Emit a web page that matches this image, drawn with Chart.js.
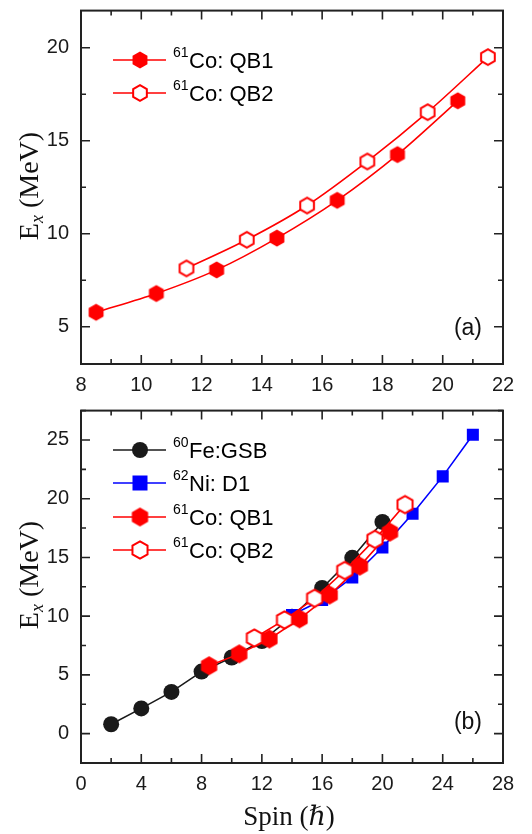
<!DOCTYPE html>
<html>
<head>
<meta charset="utf-8">
<script src="https://cdn.jsdelivr.net/npm/chart.js@4/dist/chart.umd.min.js"></script>
<style>
  html, body { margin: 0; padding: 0; background: #fff; }
  #wrap { position: relative; width: 532px; height: 834px; }
  .panel { position: absolute; left: 0; width: 532px; }
</style>
</head>
<body>
<div id="wrap">
  <div class="panel" style="top:0;height:400px"><canvas id="cA" width="532" height="400"></canvas></div>
  <div class="panel" style="top:400px;height:434px"><canvas id="cB" width="532" height="434"></canvas></div>
</div>
<script>
// ---- data ----
const spinQB1 = [8.5, 10.5, 12.5, 14.5, 16.5, 18.5, 20.5];
const energyQB1 = [5.78, 6.79, 8.06, 9.77, 11.80, 14.26, 17.15];
const spinQB2 = [11.5, 13.5, 15.5, 17.5, 19.5, 21.5];
const energyQB2 = [8.14, 9.68, 11.52, 13.89, 16.54, 19.50];
const spinFe = [2, 4, 6, 8, 10, 12, 14, 16, 18, 20];
const energyFe = [0.80, 2.15, 3.55, 5.28, 6.48, 7.88, 9.95, 12.40, 14.97, 18.02];
const spinNi = [14, 16, 18, 20, 22, 24, 26];
const energyNi = [10.10, 11.37, 13.30, 15.84, 18.72, 21.90, 25.45];

const ticksAX = [8, 10, 12, 14, 16, 18, 20, 22];
const ticksAY = [5, 10, 15, 20];
const ticksBX = [0, 4, 8, 12, 16, 20, 24, 28];
const ticksBY = [0, 5, 10, 15, 20, 25];

const RED = '#ff0000', BLUE = '#0000ff', BLACK = '#1a1a1a', AXIS = '#222222';

function pts(xs, ys) { return xs.map((x, i) => ({ x: x, y: ys[i] })); }

function hexCanvas(r, fill, stroke, lw) {
  const size = Math.ceil(2 * r + lw + 2);
  const c = document.createElement('canvas');
  c.width = size; c.height = size;
  const g = c.getContext('2d');
  g.translate(size / 2, size / 2);
  g.beginPath();
  for (let k = 0; k < 6; k++) {
    const a = (-90 + 60 * k) * Math.PI / 180;
    const px = r * Math.cos(a), py = r * Math.sin(a);
    if (k === 0) g.moveTo(px, py); else g.lineTo(px, py);
  }
  g.closePath();
  g.fillStyle = fill; g.fill();
  if (lw > 0) { g.lineWidth = lw; g.strokeStyle = stroke; g.stroke(); }
  return c;
}

const hexFillA = hexCanvas(8.6, RED, RED, 0);
const hexOpenA = hexCanvas(7.9, '#ffffff', RED, 2);
const hexFillB = hexCanvas(9.4, RED, RED, 0);
const hexOpenB = hexCanvas(8.7, '#ffffff', RED, 2);

function frameTicks(xMajor, xMinorStep, yMajor, yMinorStep) {
  return {
    id: 'frameTicks',
    afterDatasetsDraw(chart) {
      const ctx = chart.ctx, a = chart.chartArea;
      const xs = chart.scales.x, ys = chart.scales.y;
      ctx.save();
      ctx.strokeStyle = AXIS;
      ctx.lineWidth = 2;
      ctx.strokeRect(a.left, a.top, a.right - a.left, a.bottom - a.top);
      ctx.lineWidth = 1.6;
      const MAJ = 9, MIN = 5;
      const xMin = xs.min, xMax = xs.max, yMin = ys.min, yMax = ys.max;
      ctx.beginPath();
      for (let v = Math.ceil(xMin / xMinorStep) * xMinorStep; v <= xMax + 1e-9; v += xMinorStep) {
        const isMaj = xMajor.some(m => Math.abs(m - v) < 1e-6);
        const L = isMaj ? MAJ : MIN;
        const p = xs.getPixelForValue(v);
        ctx.moveTo(p, a.bottom); ctx.lineTo(p, a.bottom - L);
        ctx.moveTo(p, a.top); ctx.lineTo(p, a.top + L);
      }
      for (let v = Math.ceil(yMin / yMinorStep) * yMinorStep; v <= yMax + 1e-9; v += yMinorStep) {
        const isMaj = yMajor.some(m => Math.abs(m - v) < 1e-6);
        const L = isMaj ? MAJ : MIN;
        const p = ys.getPixelForValue(v);
        ctx.moveTo(a.left, p); ctx.lineTo(a.left + L, p);
        ctx.moveTo(a.right, p); ctx.lineTo(a.right - L, p);
      }
      ctx.stroke();
      ctx.restore();
    }
  };
}

function yTitle(cx, cy) {
  return {
    id: 'yTitle',
    afterDraw(chart) {
      const ctx = chart.ctx;
      ctx.save();
      ctx.translate(cx, cy);
      ctx.rotate(-Math.PI / 2);
      ctx.fillStyle = '#111';
      ctx.textBaseline = 'alphabetic';
      const big = '28px "Liberation Serif", "Times New Roman", serif';
      const sub = 'italic 18px "Liberation Serif", "Times New Roman", serif';
      ctx.font = big; const wE = ctx.measureText('E').width;
      ctx.font = sub; const wx = ctx.measureText('x').width;
      ctx.font = big; const wR = ctx.measureText(' (MeV)').width;
      const total = wE + wx + wR;
      let x0 = -total / 2;
      const base = 10;
      ctx.font = big; ctx.textAlign = 'left';
      ctx.fillText('E', x0, base); x0 += wE;
      ctx.font = sub; ctx.fillText('x', x0, base + 5); x0 += wx;
      ctx.font = big; ctx.fillText(' (MeV)', x0, base);
      ctx.restore();
    }
  };
}

function legendPlugin(items, rowY) {
  return {
    id: 'customLegend',
    afterDraw(chart) {
      const ctx = chart.ctx;
      ctx.save();
      items.forEach((it, i) => {
        const y = rowY[i];
        ctx.strokeStyle = it.color; ctx.lineWidth = 1.6;
        ctx.beginPath(); ctx.moveTo(113, y); ctx.lineTo(166, y); ctx.stroke();
        const mx = 140;
        if (it.marker === 'circle') {
          ctx.fillStyle = it.color; ctx.beginPath(); ctx.arc(mx, y, 8, 0, Math.PI * 2); ctx.fill();
        } else if (it.marker === 'square') {
          ctx.fillStyle = it.color; ctx.fillRect(mx - 7.5, y - 7.5, 15, 15);
        } else {
          const c = it.marker;
          ctx.drawImage(c, mx - c.width / 2, y - c.height / 2);
        }
        ctx.fillStyle = '#000';
        ctx.textAlign = 'left'; ctx.textBaseline = 'alphabetic';
        ctx.font = '14px "Liberation Sans", Arial, sans-serif';
        ctx.fillText(it.sup, 173, y - 3);
        const ws = ctx.measureText(it.sup).width;
        ctx.font = '22px "Liberation Sans", Arial, sans-serif';
        ctx.fillText(it.text, 173 + ws + 0.5, y + 8);
      });
      ctx.restore();
    }
  };
}

function panelLabel(txt, x, y) {
  return {
    id: 'panelLabel',
    afterDraw(chart) {
      const ctx = chart.ctx;
      ctx.save();
      ctx.fillStyle = '#111';
      ctx.font = '23px "Liberation Sans", Arial, sans-serif';
      ctx.textAlign = 'right'; ctx.textBaseline = 'middle';
      ctx.fillText(txt, x, y);
      ctx.restore();
    }
  };
}

function xTitle(cx, by) {
  return {
    id: 'xTitle',
    afterDraw(chart) {
      const ctx = chart.ctx;
      ctx.save();
      ctx.fillStyle = '#111';
      ctx.textBaseline = 'alphabetic';
      const f1 = '27px "Liberation Serif", "Times New Roman", serif';
      const f2 = 'italic 27px "Liberation Serif", "DejaVu Serif", serif';
      ctx.font = f1; const w1 = ctx.measureText('Spin (').width;
      ctx.font = f2; const w2 = ctx.measureText('\u210F').width;
      ctx.font = f1; const w3 = ctx.measureText(')').width;
      let x0 = cx - (w1 + w2 + w3) / 2;
      ctx.textAlign = 'left';
      ctx.font = f1; ctx.fillText('Spin (', x0, by); x0 += w1;
      ctx.font = f2; ctx.fillText('\u210F', x0, by); x0 += w2;
      ctx.font = f1; ctx.fillText(')', x0, by);
      ctx.restore();
    }
  };
}

const tickFont = { family: '"Liberation Sans", Arial, sans-serif', size: 20 };

function makeScales(xmin, xmax, xt, ymin, ymax, yt, xAxisH) {
  return {
    x: {
      type: 'linear', min: xmin, max: xmax,
      grid: { display: false, drawTicks: false },
      border: { display: false },
      afterBuildTicks: s => { s.ticks = xt.map(v => ({ value: v })); },
      afterFit: s => { s.height = xAxisH; s.paddingLeft = 0; s.paddingRight = 0; s.paddingTop = 0; s.paddingBottom = 0; },
      ticks: { font: tickFont, color: '#1a1a1a', padding: 9, maxRotation: 0, autoSkip: false }
    },
    y: {
      type: 'linear', min: ymin, max: ymax,
      grid: { display: false, drawTicks: false },
      border: { display: false },
      afterBuildTicks: s => { s.ticks = yt.map(v => ({ value: v })); },
      afterFit: s => { s.width = 81; s.paddingTop = 0; s.paddingBottom = 0; s.paddingLeft = 0; s.paddingRight = 0; },
      ticks: { font: tickFont, color: '#1a1a1a', padding: 12, autoSkip: false }
    }
  };
}

const common = {
  responsive: false, animation: false, devicePixelRatio: 1,
  plugins: { legend: { display: false }, tooltip: { enabled: false } },
  events: []
};

// ---- Panel (a) ----
new Chart(document.getElementById('cA'), {
  type: 'scatter',
  data: {
    datasets: [
      { label: 'QB1', data: pts(spinQB1, energyQB1), showLine: true, borderColor: RED, borderWidth: 1.6,
        pointStyle: hexFillA, pointRadius: 9, tension: 0.3, order: 2 },
      { label: 'QB2', data: pts(spinQB2, energyQB2), showLine: true, borderColor: RED, borderWidth: 1.6,
        pointStyle: hexOpenA, pointRadius: 9, tension: 0.3, order: 1 }
    ]
  },
  options: Object.assign({}, common, {
    layout: { padding: { left: 0, top: 6, right: 29, bottom: 0 } },
    scales: makeScales(8, 22, ticksAX, 3, 22, ticksAY, 36)
  }),
  plugins: [
    frameTicks(ticksAX, 1, ticksAY, 2.5),
    yTitle(28, 186),
    legendPlugin([
      { color: RED, marker: hexFillA, sup: '61', text: 'Co: QB1' },
      { color: RED, marker: hexOpenA, sup: '61', text: 'Co: QB2' }
    ], [60, 93]),
    panelLabel('(a)', 482, 329)
  ]
});

// ---- Panel (b) ----
new Chart(document.getElementById('cB'), {
  type: 'scatter',
  data: {
    datasets: [
      { label: 'Fe', data: pts(spinFe, energyFe), showLine: true, borderColor: BLACK, borderWidth: 1.6,
        pointStyle: 'circle', pointRadius: 8, pointBackgroundColor: BLACK, pointBorderColor: BLACK, pointBorderWidth: 0, order: 4 },
      { label: 'Ni', data: pts(spinNi, energyNi), showLine: true, borderColor: BLUE, borderWidth: 1.6,
        pointStyle: 'rect', pointRadius: 8.5, pointBackgroundColor: BLUE, pointBorderColor: BLUE, pointBorderWidth: 0, order: 3 },
      { label: 'QB1', data: pts(spinQB1, energyQB1), showLine: true, borderColor: RED, borderWidth: 1.6,
        pointStyle: hexFillB, pointRadius: 9, order: 2 },
      { label: 'QB2', data: pts(spinQB2, energyQB2), showLine: true, borderColor: RED, borderWidth: 1.6,
        pointStyle: hexOpenB, pointRadius: 9, order: 1 }
    ]
  },
  options: Object.assign({}, common, {
    layout: { padding: { left: 0, top: 4, right: 29, bottom: 0 } },
    scales: makeScales(0, 28, ticksBX, -2.5, 27.5, ticksBY, 71)
  }),
  plugins: [
    frameTicks(ticksBX, 2, ticksBY, 2.5),
    yTitle(28, 175),
    legendPlugin([
      { color: BLACK, marker: 'circle', sup: '60', text: 'Fe:GSB' },
      { color: BLUE, marker: 'square', sup: '62', text: 'Ni: D1' },
      { color: RED, marker: hexFillB, sup: '61', text: 'Co: QB1' },
      { color: RED, marker: hexOpenB, sup: '61', text: 'Co: QB2' }
    ], [50, 83, 117, 150]),
    panelLabel('(b)', 482, 323),
    xTitle(289, 425)
  ]
});
</script>
</body>
</html>
